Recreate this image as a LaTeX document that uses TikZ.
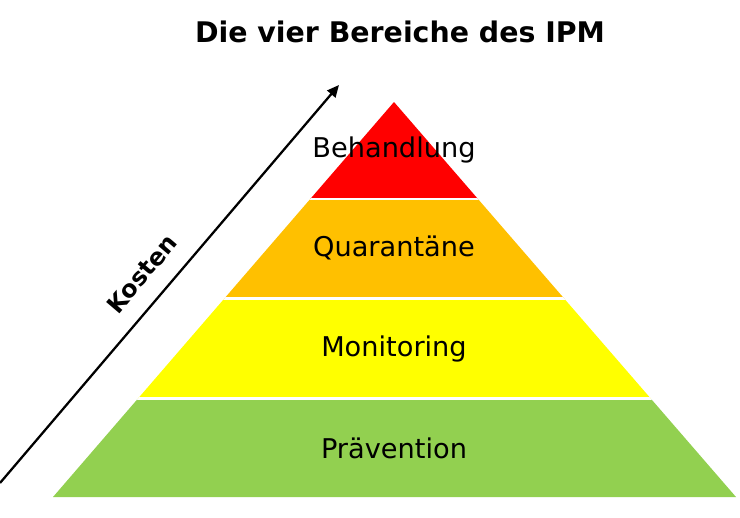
\documentclass[tikz,border=0pt]{standalone}
\usepackage{fontspec}
\setmainfont{DejaVu Sans}
\usetikzlibrary{arrows.meta}
\definecolor{cred}{HTML}{FF0000}
\definecolor{corange}{HTML}{FFC000}
\definecolor{cyellow}{HTML}{FFFF00}
\definecolor{cgreen}{HTML}{92D050}
\tikzset{
  lbl/.style={font=\fontsize{20.4}{24}\selectfont, text=black, inner sep=0pt},
  ttl/.style={font=\bfseries\fontsize{21.3}{25}\selectfont, text=black, inner sep=0pt},
  gap/.style={draw=white, line width=1.9pt},
  costarrow/.style={line width=1.7pt, -{Triangle[length=9pt,width=8pt]}}
}
\begin{document}
\begin{tikzpicture}[x=0.75pt,y=-0.75pt]
\useasboundingbox (0,0) rectangle (740,518);
\fill[white] (0,0) rectangle (740,518);
% pyramid
\coordinate (apex) at (394,102);
\coordinate (bl) at (53,497);
\coordinate (br) at (736,497);
\begin{scope}
  \clip (apex) -- (br) -- (bl) -- cycle;
  \fill[cred] (0,90) rectangle (740,199);
  \fill[corange] (0,199) rectangle (740,298.5);
  \fill[cyellow] (0,298.5) rectangle (740,398.5);
  \fill[cgreen] (0,398.5) rectangle (740,500);
  \draw[gap] (0,199) -- (740,199);
  \draw[gap] (0,298.5) -- (740,298.5);
  \draw[gap] (0,398.5) -- (740,398.5);
\end{scope}
% labels
\node[lbl] (behandlung) at (394,150) {Behandlung};
\node[lbl] (quarantaene) at (394,248) {Quarantäne};
\node[lbl] (monitoring) at (394,349) {Monitoring};
\node[lbl] (praevention) at (394,448) {Prävention};
% title
\node[ttl] (title) at (400,32) {Die vier Bereiche des IPM};
% cost arrow
\coordinate (a0) at (0,483);
\coordinate (a1) at (339,85);
\draw[costarrow] (a0) -- (a1);
\node[font=\bfseries\fontsize{18}{22}\selectfont, rotate=49.6, inner sep=0pt] (kosten) at (142,274) {Kosten};
\end{tikzpicture}
\end{document}
